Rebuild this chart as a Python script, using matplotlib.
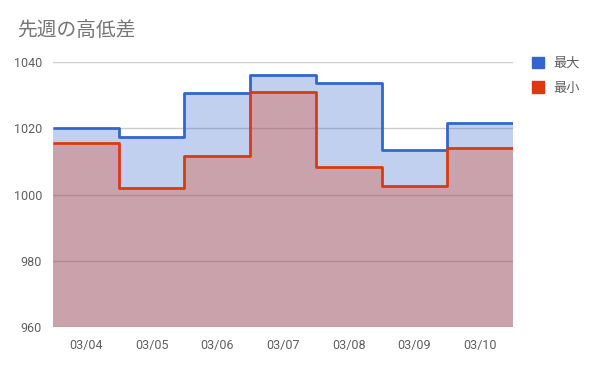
import numpy as np
import matplotlib
matplotlib.use("Agg")
import matplotlib.pyplot as plt
from matplotlib.patches import Patch

plt.rcParams['font.family'] = ['Roboto', 'Noto Sans CJK JP', 'DejaVu Sans']

dates = ["03/04", "03/05", "03/06", "03/07", "03/08", "03/09", "03/10"]
high = [1020.2, 1017.4, 1030.6, 1036.1, 1033.7, 1013.4, 1021.6]
low = [1015.6, 1002.0, 1011.6, 1030.9, 1008.3, 1002.6, 1014.0]

BLUE = "#3366cc"
RED = "#dc3912"
BASE = 960

fig = plt.figure(figsize=(5.95, 3.68), dpi=100)
ax = fig.add_axes([53/595, 1-327/368, 460/595, 265/368])

edges = np.arange(len(dates) + 1)
for vals, col in [(high, BLUE), (low, RED)]:
    ax.stairs(vals, edges, baseline=BASE, fill=True, color=col, alpha=0.3, lw=0, zorder=2)
    ax.stairs(vals, edges, baseline=None, color=col, lw=2, zorder=3, joinstyle='round')

ax.set_xlim(0, len(dates))
ax.set_ylim(BASE, 1040)
ax.set_yticks([960, 980, 1000, 1020, 1040])
ax.set_xticks(edges[:-1] + 0.5)
ax.set_xticklabels(dates)
ax.grid(axis='y', color="#cccccc", lw=1, zorder=0)
ax.set_axisbelow(True)
for s in ax.spines.values():
    s.set_visible(False)
ax.tick_params(length=0, labelsize=9, labelcolor="#5f5f5f", pad=8)
ax.tick_params(axis='x', pad=9)

fig.text(17/595, 1-31/368, "先週の高低差", fontsize=14.2, color="#757575",
         family=['Noto Sans CJK JP', 'DejaVu Sans'], va='center')

handles = [Patch(color=BLUE, label="最大"), Patch(color=RED, label="最小")]
leg = fig.legend(handles=handles, loc='upper left', bbox_to_anchor=(520/595, 1-45/368),
                 frameon=False, handlelength=0.95, handleheight=0.95, handletextpad=0.65,
                 labelspacing=0.85, prop={'family': ['Noto Sans CJK JP'], 'size': 9.5})
for t in leg.get_texts():
    t.set_color("#5f5f5f")

fig.savefig("out.png", dpi=100)
